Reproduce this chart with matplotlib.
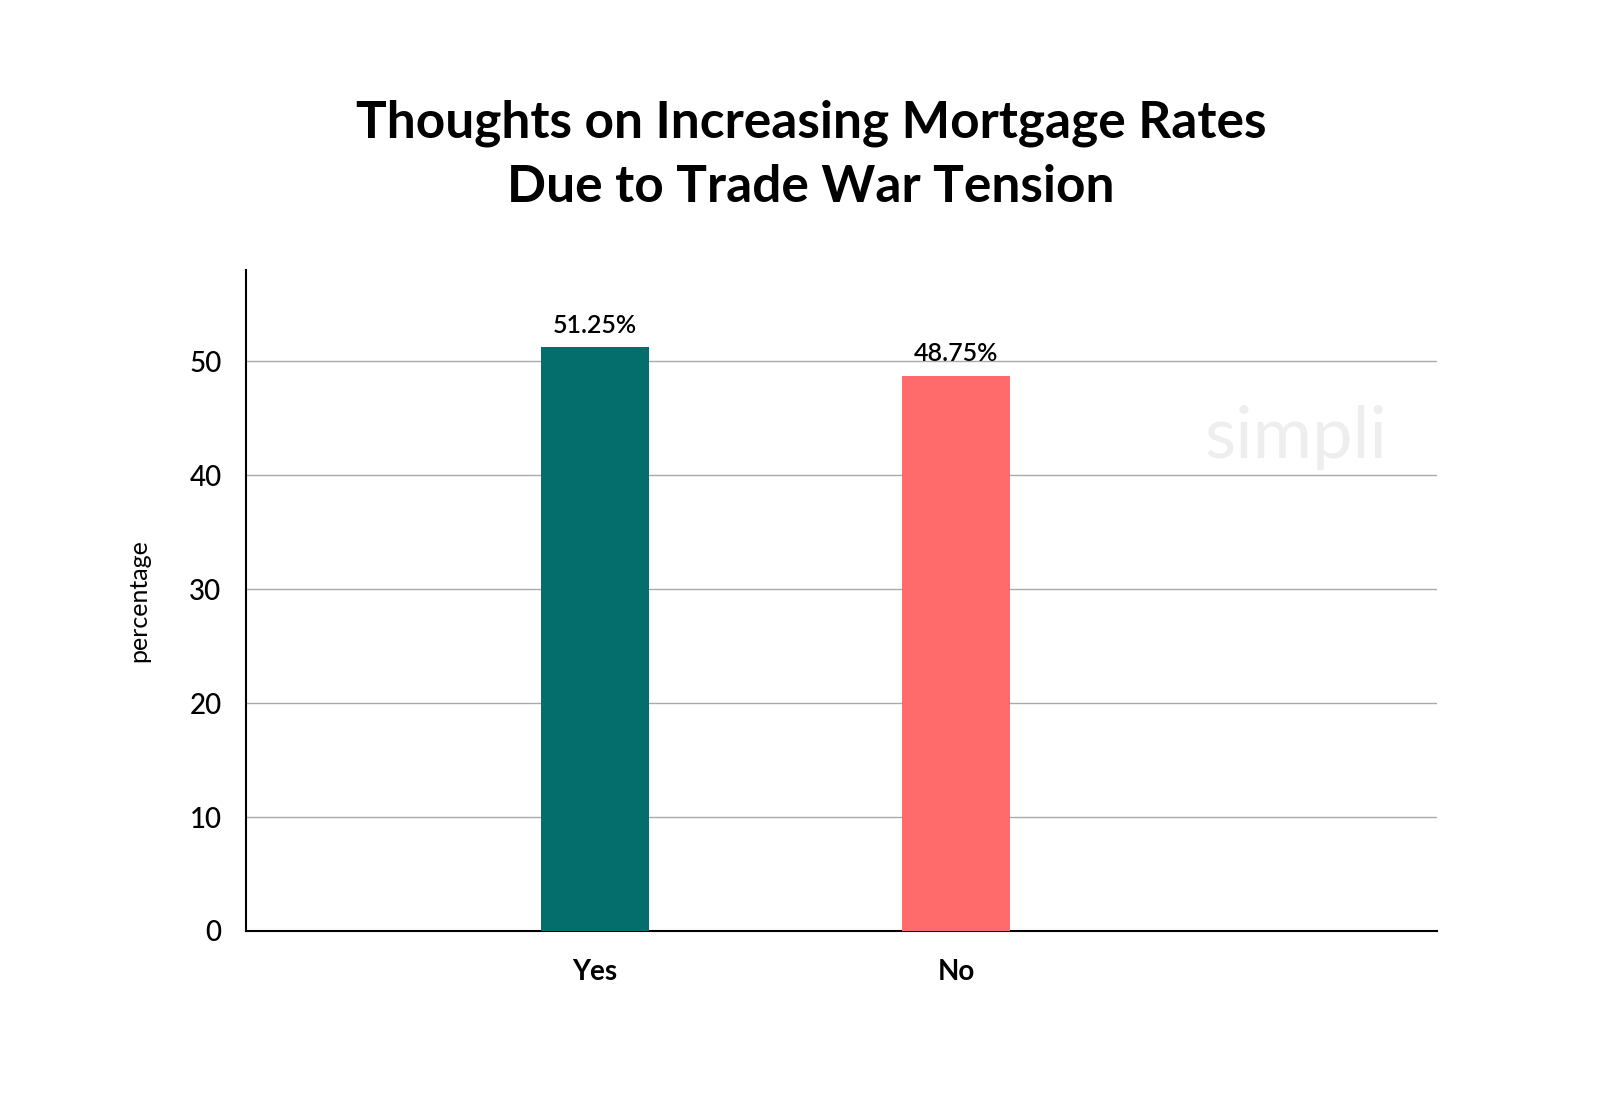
import matplotlib
matplotlib.use("Agg")
import matplotlib.pyplot as plt

categories = ["Yes", "No"]
values = [51.25, 48.75]
labels = ["51.25%", "48.75%"]
colors = ["#036e6b", "#ff6b6b"]
yticks = [0, 10, 20, 30, 40, 50]

plt.rcParams["font.family"] = "Lato"
fig = plt.figure(figsize=(16, 11.07), dpi=100)
ax = fig.add_axes([0.154, 0.159, 0.744, 0.597])
x = list(range(len(categories)))
bars = ax.bar(x, values, width=0.3, color=colors, zorder=3)
for b, l in zip(bars, labels):
    ax.text(b.get_x() + b.get_width() / 2, b.get_height() + 0.9, l,
            ha="center", va="bottom", fontsize=18, fontweight="semibold")
ax.set_xlim(-0.964, 2.33)
ax.set_ylim(0, 58)
ax.set_yticks(yticks)
ax.set_yticklabels([str(t) for t in yticks], fontsize=20, fontweight="medium")
ax.set_xticks(x)
ax.set_xticklabels(categories, fontsize=20, fontweight="bold")
ax.tick_params(axis="both", length=0, pad=18)
ax.tick_params(axis="x", pad=20)
ax.grid(axis="y", color="#aaaaaa", linewidth=1, zorder=0)
for s in ["top", "right"]:
    ax.spines[s].set_visible(False)
ax.spines["left"].set_linewidth(1.5)
ax.spines["bottom"].set_linewidth(1.5)
ax.set_ylabel("percentage", fontsize=18, labelpad=28)
fig.text(0.507, 0.86, "Thoughts on Increasing Mortgage Rates\nDue to Trade War Tension",
         ha="center", va="center", fontsize=37, fontweight="bold", linespacing=1.45)
fig.text(0.81, 0.605, "simpli", fontsize=52, color="#eeeeee", ha="center", va="center", zorder=0)
fig.savefig("out.png", dpi=100, facecolor="white")
